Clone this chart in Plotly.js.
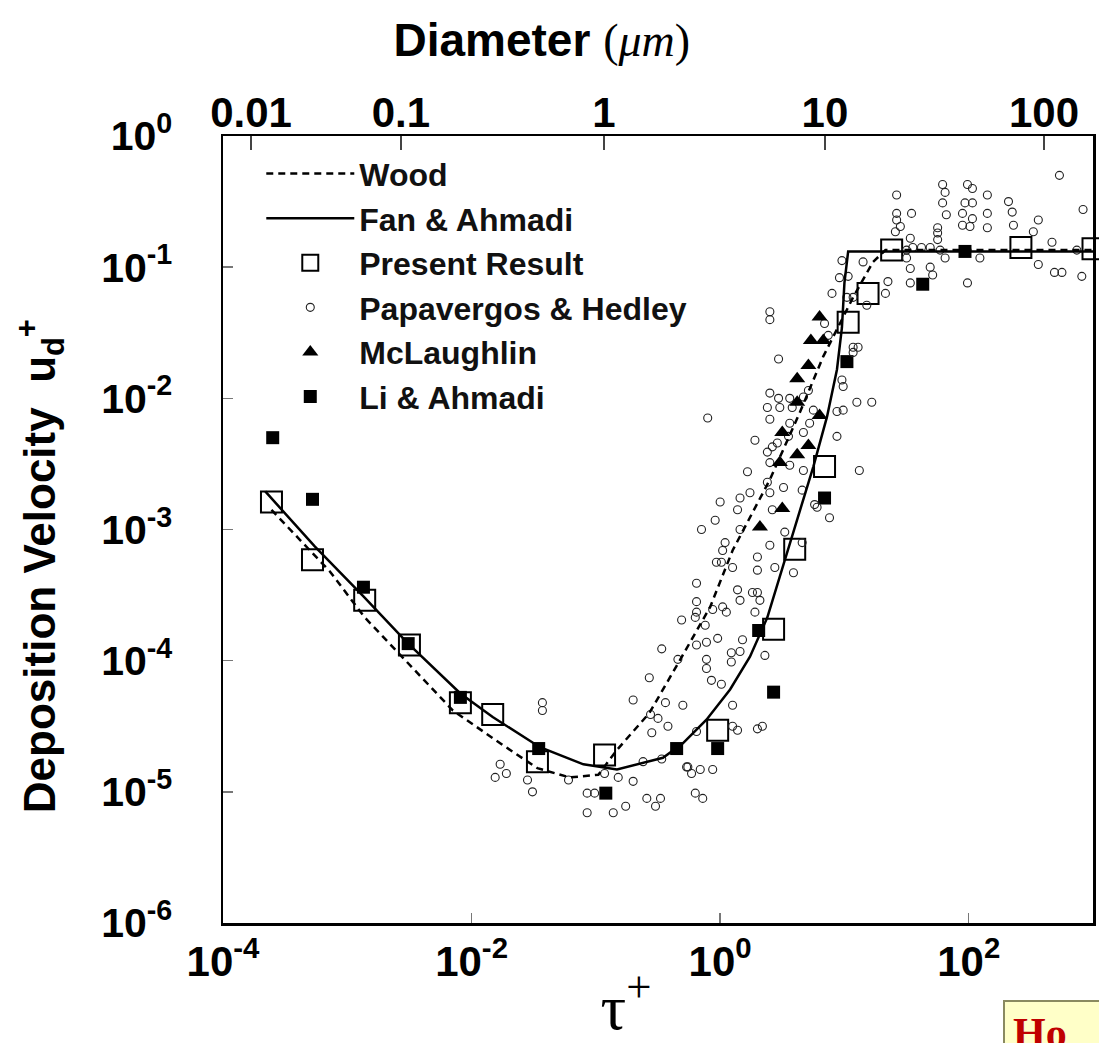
<!DOCTYPE html>
<html>
<head>
<meta charset="utf-8">
<script src="https://cdn.plot.ly/plotly-3.0.1.min.js"></script>
<style>html,body{margin:0;padding:0;background:#fff;}#chart{width:1099px;height:1043px;}</style>
</head>
<body>
<div id="chart"></div>
<script>
// ---- data (values stored as log10 of the plotted quantity) ----
const woodLogTau = [-3.61,-3.38,-3.14,-2.86,-2.51,-2.15,-1.77,-1.47,-1.21,-0.98,-0.83,-0.57,-0.32,-0.08,0.10,0.40,0.64,0.83,1.07,1.23,1.33,3.00];
const woodLogUd  = [-2.85,-3.08,-3.32,-3.67,-4.02,-4.38,-4.63,-4.82,-4.89,-4.87,-4.68,-4.40,-3.99,-3.59,-3.16,-2.62,-2.11,-1.68,-1.23,-0.96,-0.87,-0.87];

const fanLogTau = [-3.66,-3.26,-2.87,-2.52,-2.09,-1.83,-1.45,-1.10,-0.83,-0.46,-0.30,-0.11,0.08,0.24,0.38,0.51,0.75,0.86,0.94,0.98,1.00,1.03,3.00];
const fanLogUd  = [-2.71,-3.13,-3.51,-3.86,-4.25,-4.43,-4.66,-4.79,-4.83,-4.74,-4.63,-4.45,-4.22,-3.97,-3.67,-3.26,-2.52,-2.14,-1.78,-1.46,-1.12,-0.88,-0.88];

const presentLogTau = [-3.61,-3.28,-2.86,-2.50,-2.09,-1.83,-1.47,-0.93,-0.02,0.43,0.60,0.84,1.03,1.19,1.38,2.42,3.00];
const presentLogUd  = [-2.79,-3.23,-3.54,-3.88,-4.32,-4.41,-4.77,-4.72,-4.53,-3.76,-3.15,-2.52,-1.42,-1.20,-0.87,-0.85,-0.86];

const papLogTau = [-1.43,-1.43,-1.77,-1.81,-1.72,-1.55,-1.51,-1.22,-1.07,-1.07,-1.01,-0.86,-0.76,-0.93,-0.82,-0.70,-0.59,-0.48,-0.52,-0.62,
 -0.47,-0.27,-0.23,-0.16,-0.06,-0.20,-0.14,-0.55,-0.42,-0.50,-0.56,-0.44,-0.30,-0.70,-0.57,-0.47,-0.34,-0.11,-0.11,-0.07,
 0.01,0.10,0.14,0.30,0.34,-0.19,0.10,-0.31,-0.20,-0.12,-0.19,-0.19,-0.06,0.02,0.05,-0.19,-0.02,-0.11,-0.19,0.18,
 0.09,0.16,0.09,0.01,0.10,0.14,0.16,0.26,0.30,0.32,0.28,0.30,0.30,0.44,0.59,0.36,0.02,-0.03,-0.26,
 1.42,1.54,1.42,1.42,1.45,1.41,1.53,1.62,1.69,1.75,1.75,1.75,1.79,1.81,1.79,1.82,1.99,2.03,1.97,2.03,
 1.95,2.03,1.95,2.01,2.15,2.15,2.15,2.32,2.35,2.36,2.56,2.52,2.67,2.73,2.92,2.87,2.56,2.69,2.75,2.91,
 1.99,2.09,1.81,1.77,1.50,1.55,1.50,1.53,1.69,1.71,1.53,1.35,1.33,1.15,0.98,0.96,1.03,0.90,1.02,1.07,
 1.18,0.87,0.84,0.40,0.40,0.47,-0.10,1.07,1.11,1.07,0.98,0.99,1.10,1.22,0.94,0.99,0.94,1.12,0.88,0.66,
 0.76,0.66,0.40,0.47,0.38,0.48,0.40,0.56,0.58,0.67,0.71,0.75,0.72,0.67,0.56,0.55,0.46,0.42,0.38,0.40,
 0.28,0.67,0.56,0.22,0.00,0.16,0.24,0.14,0.40,0.42,0.51,0.38,-0.04,-0.15,0.16,0.04,0.40,0.52,0.78];
const papLogUd = [-4.32,-4.38,-4.79,-4.89,-4.86,-4.91,-5.00,-4.91,-5.01,-5.16,-5.01,-5.16,-5.11,-4.86,-4.89,-4.92,-5.05,-5.05,-5.11,-4.77,
 -4.75,-4.81,-4.86,-4.83,-4.83,-5.01,-5.05,-4.55,-4.50,-4.44,-4.41,-4.32,-4.34,-4.30,-4.13,-3.91,-3.99,-3.99,-4.06,-4.15,
 -4.18,-4.34,-4.53,-4.52,-4.50,-4.54,-4.50,-3.69,-3.67,-3.73,-3.63,-3.55,-3.61,-3.59,-3.63,-3.41,-3.83,-3.86,-3.88,-3.84,
 -3.94,-3.93,-4.01,-3.25,-3.29,-3.46,-3.54,-3.48,-3.48,-3.54,-3.63,-3.21,-3.31,-3.29,-3.33,-3.96,-3.16,-3.25,-4.81,
 -0.45,-0.59,-0.59,-0.64,-0.69,-0.73,-0.78,-0.85,-0.85,-0.79,-0.70,-0.74,-0.37,-0.43,-0.51,-0.60,-0.37,-0.40,-0.51,-0.51,
 -0.59,-0.63,-0.68,-0.69,-0.45,-0.59,-0.70,-0.50,-0.58,-0.68,-0.64,-0.73,-0.81,-0.30,-0.56,-0.87,-0.98,-1.04,-1.04,-1.07,
 -1.12,-0.93,-0.93,-0.87,-0.87,-0.85,-0.93,-1.01,-1.00,-1.06,-1.12,-1.11,-1.20,-0.96,-0.95,-1.08,-1.07,-1.20,-1.23,-1.23,
 -1.29,-1.52,-1.43,-1.34,-1.40,-1.70,-2.15,-1.61,-1.61,-1.65,-1.86,-1.91,-2.03,-2.03,-2.10,-2.09,-2.29,-2.55,-2.91,-2.70,
 -2.81,-3.10,-1.96,-2.00,-2.07,-2.07,-2.16,-2.00,-2.07,-1.99,-1.94,-2.09,-2.19,-2.26,-2.19,-2.29,-2.34,-2.37,-2.41,-2.49,
 -2.32,-2.55,-2.51,-2.56,-2.79,-2.76,-2.72,-2.85,-2.72,-2.85,-2.68,-2.64,-2.93,-3.00,-3.00,-3.10,-3.12,-3.02,-2.83];

const mclLogTau = [0.80,0.73,0.83,0.71,0.62,0.62,0.80,0.50,0.71,0.62,0.48,0.50,0.32];
const mclLogUd  = [-1.38,-1.56,-1.56,-1.75,-1.85,-2.03,-2.13,-2.26,-2.36,-2.43,-2.49,-2.84,-2.98];

const liLogTau = [-3.60,-3.28,-2.87,-2.51,-2.09,-1.46,-0.92,-0.35,-0.02,0.31,0.43,0.84,1.02,1.63,1.97];
const liLogUd  = [-2.30,-2.77,-3.44,-3.87,-4.28,-4.67,-5.01,-4.67,-4.67,-3.77,-4.24,-2.76,-1.72,-1.13,-0.88];

// axis ticks
const tauTickVals  = [1e-4, 1e-2, 1, 1e2];
const tauTickText  = ['10<sup>-4</sup>','10<sup>-2</sup>','10<sup>0</sup>','10<sup>2</sup>'];
const udTickVals   = [1e-6,1e-5,1e-4,1e-3,1e-2,1e-1,1];
const udTickText   = ['10<sup>-6</sup>','10<sup>-5</sup>','10<sup>-4</sup>','10<sup>-3</sup>','10<sup>-2</sup>','10<sup>-1</sup>','10<sup>0</sup>'];
const diamLabels   = ['0.01','0.1','1','10','100'];
const diamTau      = [1.68e-4, 2.70e-3, 0.116, 6.97, 403];

// ---- drawing ----
const p10 = a => a.map(v => Math.pow(10, v));
const SANS = 'Liberation Sans, Arial, Helvetica, sans-serif';
const SERIF = 'Liberation Serif, Times New Roman, serif';

const traces = [
  {name:'Li & Ahmadi', x:p10(liLogTau), y:p10(liLogUd), mode:'markers', legendrank:6,
   marker:{symbol:'square', size:13, color:'#000'}, cliponaxis:false},
  {name:'Present Result', x:p10(presentLogTau), y:p10(presentLogUd), mode:'markers', legendrank:3,
   marker:{symbol:'square-open', size:21, color:'#000', line:{width:2, color:'#000'}}, cliponaxis:false},
  {name:'Papavergos & Hedley', x:p10(papLogTau), y:p10(papLogUd), mode:'markers', legendrank:4,
   marker:{symbol:'circle-open', size:8, color:'#222', line:{width:1.1, color:'#222'}}},
  {name:'Wood', x:p10(woodLogTau), y:p10(woodLogUd), mode:'lines', legendrank:1,
   line:{color:'#000', width:2.5, dash:'7px,5px'}},
  {name:'Fan & Ahmadi', x:p10(fanLogTau), y:p10(fanLogUd), mode:'lines', legendrank:2,
   line:{color:'#000', width:2.5}},
  {name:'McLaughlin', x:p10(mclLogTau), y:p10(mclLogUd), mode:'markers', legendrank:5,
   marker:{symbol:'triangle-up', size:14, color:'#000'}},
  {x:[diamTau[2]], y:[1e-3], xaxis:'x2', mode:'markers', marker:{opacity:0}, showlegend:false, hoverinfo:'skip'}
];

const layout = {
  width:1099, height:1043,
  margin:{l:223, r:6, t:136, b:120},
  paper_bgcolor:'#fff', plot_bgcolor:'#fff',
  font:{family:SANS, color:'#000'},
  title:{text:'<b>Diameter</b> <span style="font-family:Liberation Serif;font-weight:normal">(<i>μm</i>)</span>',
         font:{family:SANS, size:46, color:'#000'}, x:0.493, xref:'container', xanchor:'center',
         y:0.962, yref:'container', yanchor:'middle'},
  showlegend:true,
  legend:{x:0.044, y:0.987, xanchor:'left', yanchor:'top', bgcolor:'rgba(0,0,0,0)',
          font:{family:SANS, size:32, weight:'bold', color:'#111'}, itemwidth:88, tracegroupgap:0},
  xaxis:{type:'log', range:[-4,3], tickvals:tauTickVals, ticktext:tauTickText,
         ticks:'inside', ticklen:10, tickwidth:1.5, tickcolor:'#777',
         showline:true, linewidth:2.5, linecolor:'#000', mirror:true, showgrid:false, zeroline:false,
         tickfont:{family:SANS, size:42, weight:'bold'},
         title:{text:'τ<sup>+</sup>&nbsp;&nbsp;&nbsp;&nbsp;', font:{family:SERIF, size:64}, standoff:10}},
  xaxis2:{type:'log', range:[-4,3], overlaying:'x', side:'top', tickvals:diamTau, ticktext:diamLabels,
          ticks:'inside', ticklen:14, tickwidth:1.5, tickcolor:'#444', showline:false, showgrid:false, zeroline:false,
          ticklabelstandoff:0,
          tickfont:{family:SANS, size:42, weight:'bold'}},
  yaxis:{type:'log', range:[-6,0], tickvals:udTickVals, ticktext:udTickText,
         ticks:'inside', ticklen:10, tickwidth:1.5, tickcolor:'#777',
         showline:true, linewidth:2.5, linecolor:'#000', mirror:true, showgrid:false, zeroline:false,
         ticklabelstandoff:40,
         tickfont:{family:SANS, size:41, weight:'bold'},
         title:{text:'Deposition Velocity  u<sub>d</sub><sup>+</sup>&nbsp;&nbsp;&nbsp;&nbsp;&nbsp;&nbsp;', font:{family:SANS, size:44, weight:'bold'}, standoff:32}},
  annotations:[
    {xref:'paper', yref:'paper', x:0.8966, y:-0.098, xanchor:'left', yanchor:'top', showarrow:false,
     text:'<b>Ho&nbsp;&nbsp;&nbsp;&nbsp;</b>', align:'left', font:{family:SERIF, size:42, color:'#c00000'},
     bgcolor:'#ffffc8', bordercolor:'#8a8a60', borderwidth:2, borderpad:8}
  ]
};

Plotly.newPlot('chart', traces, layout, {displayModeBar:false, staticPlot:true});
</script>
</body>
</html>
